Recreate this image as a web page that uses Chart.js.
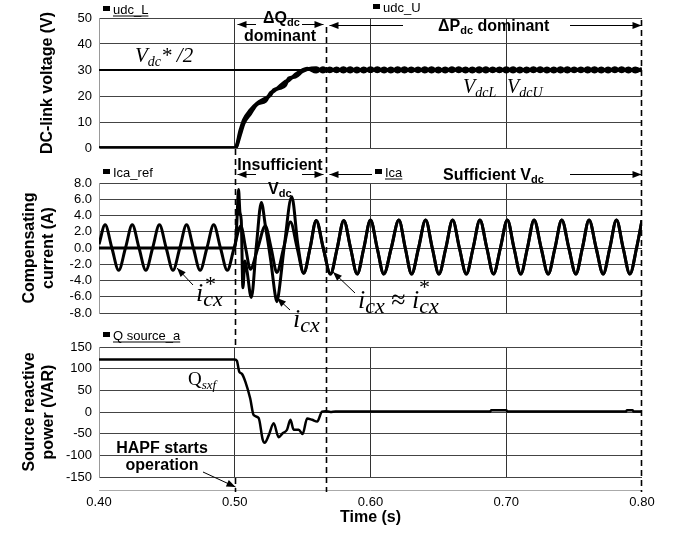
<!DOCTYPE html>
<html>
<head>
<meta charset="utf-8">
<script src="https://cdn.jsdelivr.net/npm/chart.js@4.4.0/dist/chart.umd.min.js"></script>
<style>
  html, body { margin: 0; padding: 0; background: #fff; }
  #wrap { position: relative; width: 679px; height: 533px; }
  #wrap canvas { position: absolute; left: 0; top: 0; }
</style>
</head>
<body>
<div id="wrap">
  <canvas id="c1" width="679" height="533"></canvas>
  <canvas id="c2" width="679" height="533"></canvas>
  <canvas id="c3" width="679" height="533"></canvas>
</div>
<script>
// --- data ---
const udcT = [0.400, 0.5004, 0.5041, 0.5066, 0.5115, 0.5164, 0.5226, 0.5263, 0.5287, 0.5336, 0.5373, 0.5398, 0.5447, 0.5496, 0.5533,
  0.560, 0.565, 0.570, 0.575, 0.580, 0.585, 0.590, 0.595, 0.600, 0.605, 0.610, 0.615, 0.620, 0.625, 0.630, 0.635, 0.640,
  0.645, 0.650, 0.655, 0.660, 0.665, 0.670, 0.675, 0.680, 0.685, 0.690, 0.695, 0.700, 0.705, 0.710, 0.715, 0.720, 0.725,
  0.730, 0.735, 0.740, 0.745, 0.750, 0.755, 0.760, 0.765, 0.770, 0.775, 0.780, 0.785, 0.790, 0.795, 0.800];
const udcL = [0, 0, 6.9, 10.8, 14.6, 17.2, 19.1, 20.4, 22.3, 23.0, 24.2, 26.8, 27.4, 29.4, 30.3,
  30.8, 29.3, 30.7, 29.4, 30.8, 29.3, 30.7, 29.3, 30.8, 29.4, 30.7, 29.3, 30.8, 29.3, 30.7, 29.4, 30.8,
  29.3, 30.7, 29.3, 30.8, 29.4, 30.7, 29.3, 30.8, 29.3, 30.7, 29.4, 30.8, 29.3, 30.7, 29.3, 30.8, 29.4,
  30.7, 29.3, 30.8, 29.3, 30.7, 29.4, 30.8, 29.3, 30.7, 29.3, 30.8, 29.4, 30.7, 29.3, 30.5];
const udcU = [0, 0, 5.2, 9.4, 13.2, 16.8, 18.0, 21.2, 21.8, 24.0, 25.6, 26.0, 28.3, 29.9, 30.6,
  29.3, 30.8, 29.4, 30.7, 29.3, 30.8, 29.3, 30.7, 29.4, 30.8, 29.3, 30.7, 29.3, 30.8, 29.4, 30.7, 29.3,
  30.8, 29.3, 30.7, 29.4, 30.8, 29.3, 30.7, 29.3, 30.8, 29.4, 30.7, 29.3, 30.8, 29.3, 30.7, 29.4, 30.8,
  29.3, 30.7, 29.3, 30.8, 29.4, 30.7, 29.3, 30.8, 29.3, 30.7, 29.4, 30.8, 29.3, 30.7, 29.7];
const vrefT = [0.40, 0.80];
const vref = [30, 30];

const icxRefT = [0.400, 0.4045, 0.4095, 0.4145, 0.4195, 0.4245, 0.4295, 0.4345, 0.4395, 0.4445, 0.4495,
  0.4545, 0.4595, 0.4645, 0.4695, 0.4745, 0.4795, 0.4845, 0.4895, 0.4945, 0.4995,
  0.5045, 0.508, 0.5115, 0.517, 0.5225, 0.5268, 0.531, 0.536, 0.541, 0.546, 0.5508, 0.5555,
  0.5600, 0.5652, 0.5705, 0.5755, 0.5803, 0.5853, 0.5902, 0.5951, 0.6000, 0.6049, 0.6098, 0.6153,
  0.6209, 0.6256, 0.6303, 0.6354, 0.6406, 0.6455, 0.6504, 0.6555, 0.6605, 0.6655, 0.6706, 0.6756,
  0.6806, 0.6857, 0.6906, 0.6957, 0.7008, 0.7057, 0.7107, 0.7156, 0.7205, 0.7257, 0.7309, 0.7359,
  0.7409, 0.7461, 0.7513, 0.7561, 0.7610, 0.7662, 0.7714, 0.7763, 0.7812, 0.7861, 0.7911, 0.7960, 0.8000];
const icxRef = [0.45, 2.85, 0, -2.75, 0, 2.85, 0, -2.75, 0, 2.85, 0,
  -2.75, 0, 2.85, 0, -2.75, 0, 2.85, 0, -2.75, 0,
  2.7, 0, -2.6, 0, 2.7, 0, -3.0, 0, 3.2, 0, -3.1, 0,
  3.4, 0, -3.2, 0, 3.4, 0, -3.2, 0, 3.45, 0, -3.2, 0,
  3.45, 0, -3.2, 0, 3.45, 0, -3.2, 0, 3.45, 0, -3.2, 0,
  3.45, 0, -3.2, 0, 3.45, 0, -3.2, 0, 3.45, 0, -3.2, 0,
  3.45, 0, -3.2, 0, 3.45, 0, -3.2, 0, 3.45, 0, -3.2, 0, 3.4];
const icxT = [0.400, 0.5000, 0.5015, 0.5028, 0.5038, 0.5048, 0.5060, 0.5075, 0.5090, 0.5122, 0.5160,
  0.5196, 0.5225, 0.5265, 0.5300, 0.5311, 0.5322, 0.5365, 0.5420, 0.5465, 0.5508];
const icx = [0, 0, 3.0, 7.2, 4.4, 3.4, -4.9, -1.6, -2.8, -6.1, 0.4,
  5.6, 2.8, -1.5, -6.0, -6.6, -5.8, 0.2, 6.3, 0.4, -3.1];

const qT = [0.400, 0.500, 0.5016, 0.5033, 0.5053, 0.5078, 0.5114, 0.5139, 0.5176, 0.5206, 0.5220, 0.5250,
  0.5287, 0.5323, 0.5353, 0.5385, 0.5410, 0.5434, 0.5471, 0.5500, 0.5533, 0.5570, 0.5607, 0.5643, 0.5668,
  0.5705, 0.5742, 0.600, 0.688, 0.689, 0.700, 0.701, 0.788, 0.789, 0.793, 0.794, 0.800];
const qSrc = [121, 121, 118, 93, 88, 70, 31, -7, -14, -64, -71, -54,
  -26, -58, -49, -41, -18, -41, -41, -51, -15, -18, -22, 1, 2,
  0, 1, 1, 1, 4, 4, 1, 1, 4, 4, 1, 1];

const xTicks = [0.40, 0.50, 0.60, 0.70, 0.80];
const marks = [0.50, 0.567, 0.80];   // dashed region borders

const SANS = '"Liberation Sans", Arial, sans-serif';
const SERIF = '"Liberation Serif", "Times New Roman", serif';

const pts = (t, v) => t.map((x, i) => ({ x: x, y: v[i] }));
const near = (a, b) => Math.abs(a - b) < 1e-6;

function line(label, data, w) {
  return { label: label, data: data, borderColor: '#000', borderWidth: w, pointRadius: 0,
    cubicInterpolationMode: 'monotone', fill: false };
}

function xGrid(show) {
  return ctx => {
    const v = ctx.tick ? ctx.tick.value : 0;
    if (near(v, 0.4)) return '#999';
    return show.some(s => near(s, v)) ? '#333' : 'rgba(0,0,0,0)';
  };
}

function opts(padTop, padBottom, y, x) {
  return {
    responsive: false, animation: false, events: [],
    layout: { padding: { top: padTop, bottom: padBottom, left: 0, right: 37 } },
    plugins: { legend: { display: false }, tooltip: { enabled: false } },
    scales: { x: x, y: y }
  };
}

function hiddenX(show) {
  return {
    type: 'linear', min: 0.4, max: 0.8,
    afterBuildTicks: s => { s.ticks = xTicks.map(v => ({ value: v })); },
    afterFit: s => { s.height = 0; },
    ticks: { display: false },
    grid: { drawTicks: false, color: xGrid(show) },
    border: { display: false }
  };
}

function yAxis(min, max, step, title, titlePad, fmt) {
  return {
    min: min, max: max,
    afterFit: s => { s.width = 99; },
    ticks: { stepSize: step, autoSkip: false, color: '#000', font: { family: SANS, size: 13 }, padding: 7,
      callback: fmt || (v => v) },
    grid: { color: '#444', drawTicks: false },
    border: { display: true, color: '#999' },
    title: { display: true, text: title, color: '#000',
      font: { family: SANS, size: 16, weight: 'bold' }, padding: { top: titlePad, bottom: 0 } }
  };
}

// --- annotation helpers ---
function head(ctx, x1, y1, x2, y2, len, wid) {
  len = len || 9; wid = wid || 3.5;
  const a = Math.atan2(y2 - y1, x2 - x1), c = Math.cos(a), s = Math.sin(a);
  ctx.beginPath();
  ctx.moveTo(x2, y2);
  ctx.lineTo(x2 - len * c + wid * s, y2 - len * s - wid * c);
  ctx.lineTo(x2 - len * c - wid * s, y2 - len * s + wid * c);
  ctx.closePath();
  ctx.fill();
}
function arrow(ctx, x1, y1, x2, y2, lw) {
  ctx.lineWidth = lw || 1;
  ctx.beginPath(); ctx.moveTo(x1, y1); ctx.lineTo(x2, y2); ctx.stroke();
  head(ctx, x1, y1, x2, y2);
}
function seg(ctx, x1, y1, x2, y2, lw) {
  ctx.lineWidth = lw || 1;
  ctx.beginPath(); ctx.moveTo(x1, y1); ctx.lineTo(x2, y2); ctx.stroke();
}
// draw a run of text pieces: [text, font, dy]
function run(ctx, x, y, parts, align) {
  let w = 0;
  parts.forEach(p => { ctx.font = p[1]; w += ctx.measureText(p[0]).width; });
  let cx = align === 'center' ? x - w / 2 : x;
  ctx.textAlign = 'left';
  ctx.textBaseline = 'alphabetic';
  parts.forEach(p => {
    ctx.font = p[1];
    ctx.fillText(p[0], cx, y + (p[2] || 0));
    cx += ctx.measureText(p[0]).width;
  });
  return cx;
}
function legendKey(ctx, x, y, name, under) {
  ctx.fillRect(x, y - 8, 7, 5);
  const end = run(ctx, x + 10, y, [[name, '13px ' + SANS]]);
  if (under) seg(ctx, x + 10, y + 2, end, y + 2, 1);
}

const annot = {
  id: 'annot',
  afterDraw(chart) {
    const ctx = chart.ctx, xs = chart.scales.x;
    const X = t => xs.getPixelForValue(t);
    const L = chart.chartArea.left, R = chart.chartArea.right;
    ctx.save();
    ctx.fillStyle = '#000';

    // x axis base line
    ctx.strokeStyle = '#aaa';
    seg(ctx, L, 490.5, R, 490.5, 1);
    ctx.strokeStyle = '#000';

    // dashed region borders
    ctx.setLineDash([6, 4]);
    const x0 = Math.round(X(marks[0])) + 0.5, x1 = Math.round(X(marks[1])) + 0.5, x2 = Math.round(X(marks[2])) - 0.5;
    seg(ctx, x0, 149, x0, 347, 1.6);
    seg(ctx, x0, 478, x0, 492, 1.6);
    seg(ctx, x1, 27, x1, 492, 1.6);
    seg(ctx, x2, 20, x2, 492, 1.6);
    ctx.setLineDash([]);

    const B = 'bold 16px ' + SANS, Bs = 'bold 11px ' + SANS;
    const I = 'italic 21px ' + SERIF, Is = 'italic 14px ' + SERIF;

    // panel 1 header
    legendKey(ctx, 103, 14, 'udc_L', true);
    legendKey(ctx, 373, 12, 'udc_U', false);
    run(ctx, 263, 23, [['\u0394Q', B], ['dc', Bs, 3]]);
    run(ctx, 280, 41, [['dominant', B]], 'center');
    arrow(ctx, 256, 24.5, x0 + 2, 24.5);
    arrow(ctx, 302, 24.5, x1 - 3, 24.5);
    arrow(ctx, 403, 25.5, x1 + 3, 25.5);
    run(ctx, 438, 31, [['\u0394P', B], ['dc', Bs, 3], [' dominant', B]]);
    arrow(ctx, 570, 25.5, x2, 25.5);
    run(ctx, 135, 62, [['V', I], ['dc', Is, 4], ['* /2', I]]);
    run(ctx, 463, 93, [['V', 'italic 20px ' + SERIF], ['dcL', Is, 4]]);
    run(ctx, 507, 93, [['V', 'italic 20px ' + SERIF], ['dcU', Is, 4]]);

    // panel 2 header
    run(ctx, 280, 170, [['Insufficient', B]], 'center');
    arrow(ctx, 256, 174.5, x0 + 2, 174.5);
    arrow(ctx, 302, 174.5, x1 - 3, 174.5);
    arrow(ctx, 372, 174.5, x1 + 3, 174.5);
    run(ctx, 268, 194, [['V', B], ['dc', Bs, 3]]);
    legendKey(ctx, 103, 177, 'Ica_ref', false);
    legendKey(ctx, 375, 177, 'Ica', true);
    run(ctx, 443, 180, [['Sufficient V', B], ['dc', Bs, 3]]);
    arrow(ctx, 570, 174.5, x2, 174.5);

    // panel 2 curve labels
    const Ib = 'italic 26px ' + SERIF, Ic = 'italic 22px ' + SERIF, St = '22px ' + SERIF;
    run(ctx, 196, 301, [['i', Ib], ['cx', Ic, 5]]);
    run(ctx, 205, 291, [['*', St]]);
    arrow(ctx, 193, 285, 177, 268);
    run(ctx, 293, 327, [['i', Ib], ['cx', Ic, 5]]);
    arrow(ctx, 290, 310, 277, 298);
    run(ctx, 358, 308, [['i', Ib], ['cx', Ic, 5], [' \u2248 ', '26px ' + SERIF], ['i', Ib], ['cx', Ic, 5]]);
    run(ctx, 419, 294, [['*', St]]);
    arrow(ctx, 355, 293, 333, 272);

    // panel 3
    legendKey(ctx, 103, 340, 'Q source_a', true);
    run(ctx, 188, 385, [['Q', '19px ' + SERIF], ['sxf', 'italic 13px ' + SERIF, 4]]);
    run(ctx, 162, 453, [['HAPF starts', B]], 'center');
    run(ctx, 162, 470, [['operation', B]], 'center');
    arrow(ctx, 203, 472, x0, 487);

    ctx.restore();
  }
};

// --- chart 1: DC-link voltage ---
new Chart(document.getElementById('c1'), {
  type: 'line',
  data: { datasets: [
    line('Vdc*/2', pts(vrefT, vref), 2),
    line('udc_L', pts(udcT, udcL), 3.5),
    line('udc_U', pts(udcT, udcU), 3.5)
  ] },
  options: opts(18, 385, yAxis(0, 50, 10, 'DC-link voltage (V)', 38), hiddenX([0.5, 0.6, 0.7]))
});

// --- chart 2: compensating current ---
new Chart(document.getElementById('c2'), {
  type: 'line',
  data: { datasets: [
    line('Ica_ref', pts(icxRefT, icxRef), 3),
    line('Ica', pts(icxT, icx).concat(pts(icxRefT, icxRef).filter(p => p.x > 0.555)), 3)
  ] },
  options: opts(183, 220, yAxis(-8, 8, 2, ['Compensating', 'current (A)'], 20, v => v.toFixed(1)),
    hiddenX([0.6, 0.7]))
});

// --- chart 3: source reactive power ---
new Chart(document.getElementById('c3'), {
  type: 'line',
  data: { datasets: [ line('Q source_a', pts(qT, qSrc), 2.5) ] },
  options: opts(347, 0, yAxis(-150, 150, 50, ['Source reactive', 'power (VAR)'], 20), {
    type: 'linear', min: 0.4, max: 0.8,
    afterBuildTicks: s => { s.ticks = xTicks.map(v => ({ value: v })); },
    afterFit: s => { s.height = 56; },
    ticks: { color: '#000', font: { family: SANS, size: 13 }, padding: 18, maxRotation: 0,
      callback: v => Number(v).toFixed(2) },
    grid: { drawTicks: false, color: xGrid([0.5, 0.6, 0.7]) },
    border: { display: false },
    title: { display: true, text: 'Time (s)', color: '#000',
      font: { family: SANS, size: 16, weight: 'bold' }, padding: { top: 0, bottom: 6 } }
  }),
  plugins: [annot]
});
</script>
</body>
</html>
